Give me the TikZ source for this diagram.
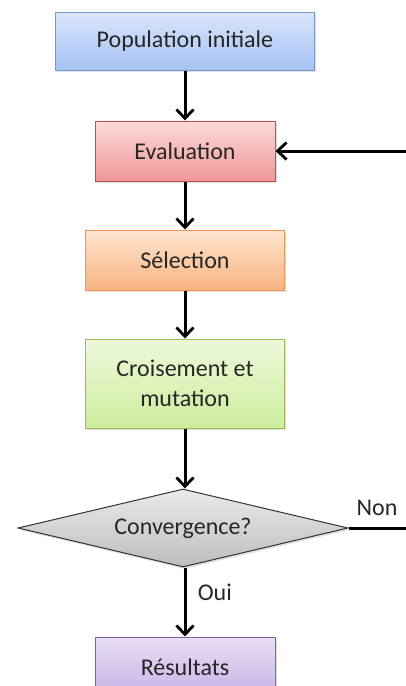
\documentclass[tikz,border=0pt]{standalone}
\usepackage{fontspec}
\setmainfont{Carlito}
\usetikzlibrary{shapes.geometric,arrows.meta,shadows}
\definecolor{popfill}{RGB}{218,230,251}
\definecolor{popshade}{RGB}{166,194,244}
\definecolor{popline}{RGB}{120,152,206}
\definecolor{evalfill}{RGB}{252,218,218}
\definecolor{evalshade}{RGB}{240,150,150}
\definecolor{evalline}{RGB}{190,80,77}
\definecolor{selfill}{RGB}{253,228,208}
\definecolor{selshade}{RGB}{249,180,128}
\definecolor{selline}{RGB}{240,150,80}
\definecolor{croisfill}{RGB}{238,248,220}
\definecolor{croisshade}{RGB}{205,237,156}
\definecolor{croisline}{RGB}{155,187,89}
\definecolor{resfill}{RGB}{232,222,244}
\definecolor{resshade}{RGB}{200,178,230}
\definecolor{resline}{RGB}{128,100,162}
\colorlet{textcol}{black!85}

\begin{document}
\begin{tikzpicture}[x=1pt, y=1pt,
    step box/.style={shape=rectangle, line width=1pt, inner sep=2pt, align=center,
      font=\fontsize{24}{30}\selectfont\color{textcol},
      drop shadow={opacity=0.25, shadow xshift=1.5pt, shadow yshift=-2pt}},
    decision/.style={shape=diamond, aspect=4.23, draw=black!80, line width=1pt, top color=black!8, bottom color=black!26,
      inner sep=0pt, font=\fontsize{24}{30}\selectfont\color{textcol},
      drop shadow={opacity=0.25, shadow xshift=1.5pt, shadow yshift=-2pt}},
    flow/.style={draw=black, line width=3pt, -{Straight Barb[length=9pt, width=17pt, line width=2.8pt]}},
    flow label/.style={font=\fontsize{24}{30}\selectfont\color{textcol}}
  ]
  \useasboundingbox (0,0) rectangle (406,-686);
  \clip (0,0) rectangle (406,-686);

  \node [step box, top color=popfill, bottom color=popshade, draw=popline,
    minimum width=259, minimum height=58] (pop) at (185,-41) {Population initiale};
  \node [step box, top color=evalfill, bottom color=evalshade, draw=evalline,
    minimum width=180, minimum height=60] (eval) at (185,-151) {Evaluation};
  \node [step box, top color=selfill, bottom color=selshade, draw=selline,
    minimum width=199, minimum height=60] (sel) at (185,-260) {Sélection};
  \node [step box, top color=croisfill, bottom color=croisshade, draw=croisline,
    minimum width=199, minimum height=89] (crois) at (185,-383.5) {Croisement et\\mutation};
  \node [decision, minimum width=330, minimum height=78] (conv) at (183,-528) {Convergence?};
  \node [step box, top color=resfill, bottom color=resshade, draw=resline,
    minimum width=180, minimum height=60] (res) at (185,-667) {Résultats};

  \draw [flow] (pop) -- (eval);
  \draw [flow] (eval) -- (sel);
  \draw [flow] (sel) -- (crois);
  \draw [flow] (crois) -- (crois |- conv.north);
  \draw [flow] (res |- conv.south) -- (res) node [flow label, pos=0.36, right=8pt] (oui) {Oui};
  \draw [flow] (conv.east) -- ++(80,0) coordinate (back) |- (eval.east);
  \node [flow label] (non) at (377,-508) {Non};
\end{tikzpicture}
\end{document}
